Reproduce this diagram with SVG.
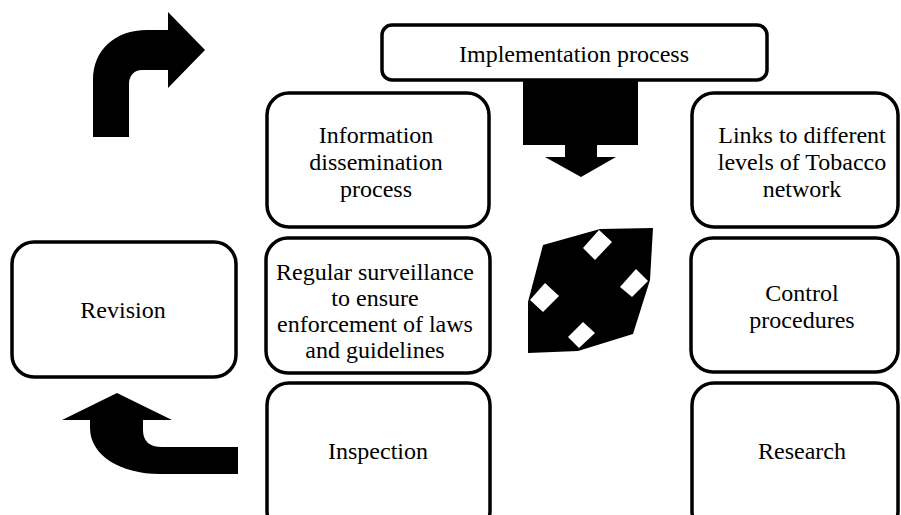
<svg xmlns="http://www.w3.org/2000/svg" width="901" height="515" viewBox="0 0 901 515">
<style>
.box{fill:#fff;stroke:#000;stroke-width:3.5}
.t{font-family:'Liberation Serif','Times New Roman','DejaVu Serif',serif;font-size:24px;fill:#000;text-anchor:middle}
.shape{fill:#000;stroke:none}
.hole{fill:#fff;stroke:none}
</style>
<rect width="901" height="515" fill="#fff"/>
<g id="connectors">
<path class="shape" d="M93,137 L93,80 C93,50 115,30 147,30 L168,30 L168,12 L205,50 L168,88 L168,70 L142,70 C134,70 129,76 129,84 L129,137 Z"/>
<path class="shape" d="M523,80 L638,80 L638,145 L597,145 L597,157 L616,157 L581,177 L545,157 L565,157 L565,145 L523,145 Z"/>
<path class="shape" d="M238,447 L162,447 Q143,447 143,430 L143,420 L172,420 L117,393 L62,420 L90,420 L90,428 C90,455 120,474 160,474 L238,474 Z"/>
</g>
<g id="center-shape">
<polygon class="shape" points="543,245 600,229 653,228 650,280 633,334 578,351 528,353 528,302"/>
<polygon class="hole" points="583,248 599,230 612,242 595,260"/>
<polygon class="hole" points="620,287 636,269 648,281 632,297"/>
<polygon class="hole" points="530,300 545,283 559,296 543,312"/>
<polygon class="hole" points="568,337 583,322 595,333 579,348"/>
</g>
<g id="implementation">
<rect class="box" x="382" y="25" width="385" height="55" rx="10"/>
<text class="t" x="574" y="62" font-family="Liberation Serif, serif">Implementation process</text>
</g>
<g id="information">
<rect class="box" x="267" y="93" width="222" height="134" rx="22"/>
<text class="t" x="376" y="143">Information</text>
<text class="t" x="376" y="170">dissemination</text>
<text class="t" x="376" y="197">process</text>
</g>
<g id="links">
<rect class="box" x="692" y="93" width="206" height="134" rx="22"/>
<text class="t" x="802" y="143">Links to different</text>
<text class="t" x="802" y="170">levels of Tobacco</text>
<text class="t" x="802" y="197">network</text>
</g>
<g id="revision">
<rect class="box" x="12" y="242" width="224" height="135" rx="22"/>
<text class="t" x="123" y="318">Revision</text>
</g>
<g id="surveillance">
<rect class="box" x="266" y="238" width="224" height="135" rx="22"/>
<text class="t" x="375" y="280">Regular surveillance</text>
<text class="t" x="375" y="306">to ensure</text>
<text class="t" x="375" y="332">enforcement of laws</text>
<text class="t" x="375" y="358">and guidelines</text>
</g>
<g id="control">
<rect class="box" x="691" y="238" width="207" height="134" rx="22"/>
<text class="t" x="802" y="301">Control</text>
<text class="t" x="802" y="328">procedures</text>
</g>
<g id="inspection">
<rect class="box" x="267" y="383" width="223" height="150" rx="22"/>
<text class="t" x="378" y="459">Inspection</text>
</g>
<g id="research">
<rect class="box" x="692" y="383" width="206" height="150" rx="22"/>
<text class="t" x="802" y="459">Research</text>
</g>
</svg>
